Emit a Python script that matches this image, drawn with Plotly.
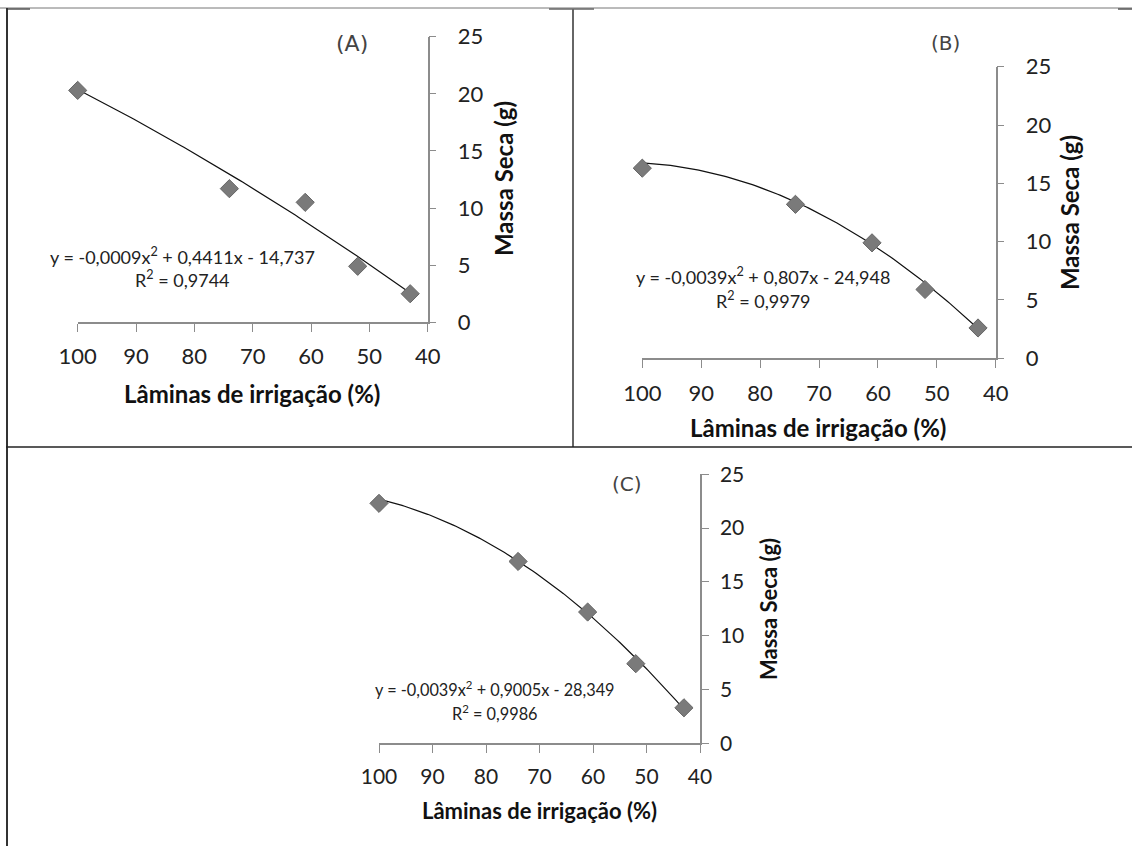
import numpy as np
import plotly.graph_objects as go

W, H = 1132, 846

# ---- data ----
laminas = [100, 74, 61, 52, 43]
massa_A = [20.3, 11.7, 10.5, 4.9, 2.5]
massa_B = [16.3, 13.2, 9.9, 5.9, 2.6]
massa_C = [22.3, 16.9, 12.2, 7.4, 3.3]

# trendline coefficients as printed on the chart (a, b, c for a*x^2 + b*x + c)
coef_A = [-0.0009, 0.4411, -14.737]
coef_B = [-0.0039, 0.807, -24.948]
coef_C = [-0.0039, 0.9005, -28.349]

eq_A = ["y = -0,0009x<sup>2</sup> + 0,4411x - 14,737", "R<sup>2</sup> = 0,9744"]
eq_B = ["y = -0,0039x<sup>2</sup> + 0,807x - 24,948", "R<sup>2</sup> = 0,9979"]
eq_C = ["y = -0,0039x<sup>2</sup> + 0,9005x - 28,349", "R<sup>2</sup> = 0,9986"]

panel_labels = ["(A)", "(B)", "(C)"]
x_ticks = [100, 90, 80, 70, 60, 50, 40]
y_ticks = [0, 5, 10, 15, 20, 25]
x_title = "Lâminas de irrigação (%)"
y_title = "Massa Seca (g)"


def px(x):
    return x / W


def py(y):
    return 1 - y / H


# panel layout in pixels
panels = [
    dict(box=(77.7, 427.7, 36.7, 322.3), tick=22, ystand=17, xstand=6,
         lab=(352, 43), xt=(252, 393), yt=(503, 179), eq=(182, 256, 279),
         tsize=24, esize=18, lsize=22),
    dict(box=(642.3, 995.7, 66.7, 358.3), tick=22, ystand=17, xstand=7,
         lab=(945, 43), xt=(818, 427), yt=(1070, 213), eq=(763, 276, 300),
         tsize=24, esize=18, lsize=20),
    dict(box=(379, 700, 474.3, 743.3), tick=21, ystand=7, xstand=6,
         lab=(627, 484), xt=(539, 810), yt=(768, 609), eq=(495, 688, 712),
         tsize=22, esize=16.3, lsize=20),
]
series = [massa_A, massa_B, massa_C]
coefs = [coef_A, coef_B, coef_C]
eqs = [eq_A, eq_B, eq_C]

fig = go.Figure()
axis_color = "#8c8c8c"
font_family = "Lato"
ann = []

for i, (p, ys, cf, eq, lab) in enumerate(zip(panels, series, coefs, eqs, panel_labels)):
    n = "" if i == 0 else str(i + 1)
    xa, ya = "x" + n, "y" + n
    xs_fit = np.linspace(laminas[0], laminas[-1], 120)
    ys_fit = np.polyval(cf, xs_fit)
    fig.add_trace(go.Scatter(x=xs_fit, y=ys_fit, mode="lines",
                             line=dict(color="#111", width=1.2),
                             xaxis=xa, yaxis=ya, showlegend=False, hoverinfo="skip",
                             cliponaxis=False))
    fig.add_trace(go.Scatter(x=laminas, y=ys, mode="markers",
                             marker=dict(symbol="diamond", size=14, color="#7a7a7a",
                                         line=dict(color="#666666", width=1)),
                             xaxis=xa, yaxis=ya, showlegend=False, cliponaxis=False))
    l, r, t, b = p["box"]
    fig.layout["xaxis" + n] = dict(
        domain=[px(l), px(r)], range=[100, 40], anchor=ya, automargin=False,
        tickvals=x_ticks, ticks="outside", ticklen=8, tickcolor=axis_color, tickwidth=1.3,
        showline=True, linecolor=axis_color, linewidth=1.5,
        showgrid=False, zeroline=False, ticklabelstandoff=p["xstand"],
        tickfont=dict(family=font_family, size=p["tick"], color="#222"))
    fig.layout["yaxis" + n] = dict(
        domain=[py(b), py(t)], range=[0, 25], anchor=xa, side="right", automargin=False,
        tickvals=y_ticks, ticks="outside", ticklen=7, tickcolor=axis_color, tickwidth=1.3,
        showline=True, linecolor=axis_color, linewidth=1.5,
        showgrid=False, zeroline=False, ticklabelstandoff=p["ystand"],
        tickfont=dict(family=font_family, size=p["tick"], color="#222"))

    common = dict(showarrow=False, xref="paper", yref="paper", xanchor="center", yanchor="middle")
    ann.append(dict(x=px(p["lab"][0]), y=py(p["lab"][1]), text=lab,
                    font=dict(family="DejaVu Sans", size=p["lsize"], color="#444"), **common))
    ann.append(dict(x=px(p["xt"][0]), y=py(p["xt"][1]), text="<b>" + x_title + "</b>",
                    font=dict(family=font_family, size=p["tsize"], color="#111"), **common))
    ann.append(dict(x=px(p["yt"][0]), y=py(p["yt"][1]), text="<b>" + y_title + "</b>",
                    textangle=-90,
                    font=dict(family=font_family, size=p["tsize"], color="#111"), **common))
    ex, ey1, ey2 = p["eq"]
    ann.append(dict(x=px(ex), y=py(ey1), text=eq[0],
                    font=dict(family=font_family, size=p["esize"], color="#222"), **common))
    ann.append(dict(x=px(ex), y=py(ey2), text=eq[1],
                    font=dict(family=font_family, size=p["esize"], color="#222"), **common))

shapes = []


def seg(x0, y0, x1, y1, color, width):
    shapes.append(dict(type="line", xref="paper", yref="paper",
                       x0=px(x0), y0=py(y0), x1=px(x1), y1=py(y1),
                       line=dict(color=color, width=width)))


seg(0, 8, 1132, 8, "#777777", 1)
seg(6, 9, 30, 9, "#555555", 1.5)
seg(549, 9, 594, 9, "#666666", 1.5)
seg(1118, 9, 1132, 9, "#555555", 1.5)
seg(7, 8, 7, 846, "#333333", 2)
seg(573, 9, 573, 447, "#666666", 2)
seg(6, 447, 1132, 447, "#222222", 1.5)

fig.update_layout(width=W, height=H, margin=dict(l=0, r=0, t=0, b=0, pad=0),
                  paper_bgcolor="white", plot_bgcolor="white", template="none",
                  annotations=ann, shapes=shapes, showlegend=False)

fig.write_html("out.html")
